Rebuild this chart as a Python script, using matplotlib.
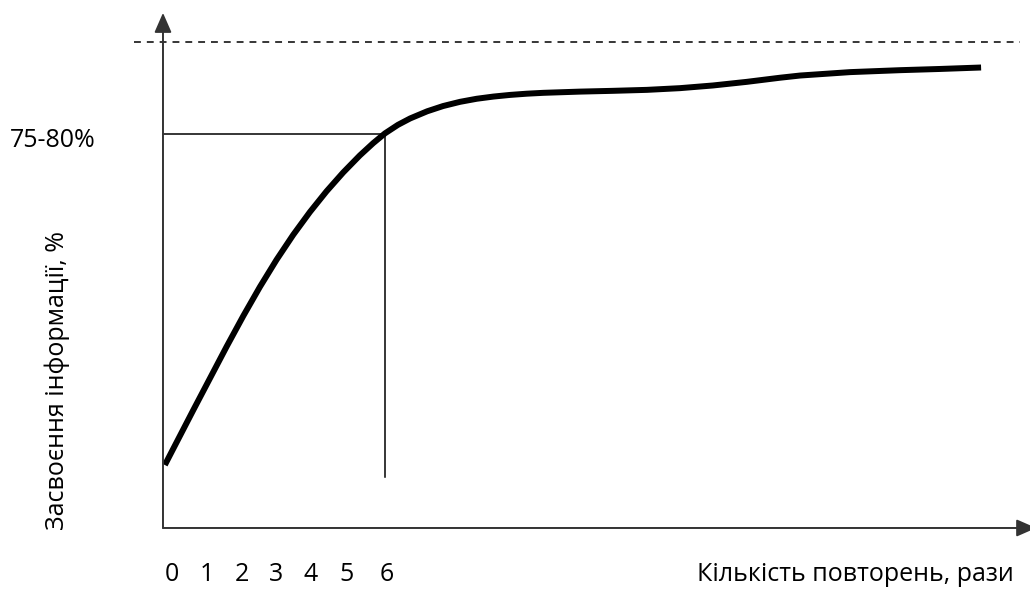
import matplotlib
matplotlib.use('Agg')
import matplotlib.pyplot as plt

plt.rcParams['font.family'] = ['Open Sans', 'DejaVu Sans']

# curve: repetitions vs. % of information learned
reps = [0.05, 0.82, 1.72, 2.17, 2.62, 3.07, 3.52, 3.97, 4.42, 4.87, 5.32, 5.68,
        6.0, 6.35, 6.68, 7.14, 7.57, 8.03, 8.48, 8.93, 9.38, 9.83, 10.28, 11.27,
        12.16, 13.08, 13.97, 14.86, 15.78, 16.68, 17.22, 18.57, 19.92, 21.0, 22.11]
learned = [12.96, 24.28, 37.33, 43.63, 49.62, 55.2, 60.33, 65.01, 69.28, 73.15,
           76.66, 79.18, 81.2, 82.95, 84.27, 85.74, 86.82, 87.69, 88.32, 88.77,
           89.11, 89.36, 89.54, 89.79, 89.95, 90.15, 90.5, 91.05, 91.8, 92.65,
           93.1, 93.8, 94.2, 94.45, 94.75]
limit = 100          # dashed asymptote
mark_rep = 6         # repetitions marked with guide lines
mark_level = 81.1
mark_label = '75-80%'
tick_labels = ['0', '1', '2', '3', '4', '5', '6']
xlabel = 'Кількість повторень, рази'
ylabel = 'Засвоєння інформації, %'

# layout
tick_pos = [0.24, 1.19, 2.14, 3.05, 4.0, 4.95, 6.05]
fs = 18

fig = plt.figure(figsize=(10.3, 5.9), dpi=100)
ax = fig.add_axes([0, 0, 1, 1])
ax.axis('off')
ax.set_xlim(-4.405, 23.432)
ax.set_ylim(-12.76, 108.64)

# axes with arrows
arr = dict(arrowstyle='-|>,head_length=0.8,head_width=0.35', mutation_scale=15,
           color='#333333', lw=1.4, shrinkA=0, shrinkB=0)
ax.annotate('', xy=(0, 106.0), xytext=(0, 0), arrowprops=arr, annotation_clip=False)
ax.annotate('', xy=(23.6, 0), xytext=(0, 0), arrowprops=arr, annotation_clip=False)

# dashed limit line
ax.plot([-0.78, 23.16], [limit, limit], color='black', lw=1.1, dashes=[4.5, 3.9])

# guide lines
ax.plot([0, mark_rep], [mark_level, mark_level], color='black', lw=1.1)
ax.plot([mark_rep, mark_rep], [mark_level, 10.5], color='black', lw=1.1)

# learning curve
ax.plot(reps, learned, color='black', lw=4.3, solid_capstyle='butt', solid_joinstyle='round')

# texts
for p, t in zip(tick_pos, tick_labels):
    ax.text(p, -9.67, t, fontsize=fs, ha='center', va='center')
ax.text(18.7, -9.67, xlabel, fontsize=fs, ha='center', va='center')
ax.text(-2.97, 79.8, mark_label, fontsize=fs, ha='center', va='center')
ax.text(-2.865, 30.45, ylabel, fontsize=fs, ha='center', va='center', rotation=90)

fig.savefig('out.png', dpi=100)
